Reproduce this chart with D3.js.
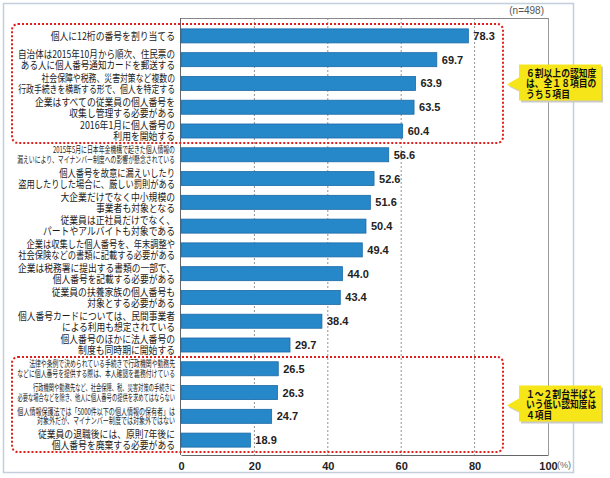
<!DOCTYPE html>
<html><head><meta charset="utf-8">
<script src="https://cdn.jsdelivr.net/npm/d3@7"></script>
<style>
body{margin:0;background:#fff;}
svg{display:block;}
</style></head>
<body>
<svg id="c" width="610" height="478"></svg>
<script>
const labels = [
  ["個人に12桁の番号を割り当てる"],
  ["自治体は2015年10月から順次、住民票の","ある人に個人番号通知カードを郵送する"],
  ["社会保障や税務、災害対策など複数の","行政手続きを横断する形で、個人を特定する"],
  ["企業はすべての従業員の個人番号を","収集し管理する必要がある"],
  ["2016年1月に個人番号の","利用を開始する"],
  ["2015年5月に日本年金機構で起きた個人情報の","漏えいにより、マイナンバー制度への影響が懸念されている"],
  ["個人番号を故意に漏えいしたり","盗用したりした場合に、厳しい罰則がある"],
  ["大企業だけでなく中小規模の","事業者も対象となる"],
  ["従業員は正社員だけでなく、","パートやアルバイトも対象である"],
  ["企業は収集した個人番号を、年末調整や","社会保険などの書類に記載する必要がある"],
  ["企業は税務署に提出する書類の一部で、","個人番号を記載する必要がある"],
  ["従業員の扶養家族の個人番号も","対象とする必要がある"],
  ["個人番号カードについては、民間事業者","による利用も想定されている"],
  ["個人番号のほかに法人番号の","制度も同時期に開始する"],
  ["法律や条例で決められている手続きで行政機関や勤務先","などに個人番号を提供する際は、本人確認を義務付けている"],
  ["行政機関や勤務先など、社会保障、税、災害対策の手続きに","必要な場合などを除き、他人に個人番号の提供を求めてはならない"],
  ["個人情報保護法では「5000件以下の個人情報の保有者」は","対象外だが、マイナンバー制度では対象外ではない"],
  ["従業員の退職後には、原則7年後に","個人番号を廃棄する必要がある"]
];
const values = [78.3,69.7,63.9,63.5,60.4,56.6,52.6,51.6,50.4,49.4,44.0,43.4,38.4,29.7,26.5,26.3,24.7,18.9];
const condensedRows = [5,14,15,16];
const xTicks = [0,20,40,60,80,100];
const groups = [
  {from:0, to:4, note:["６割以上の認知度","は、全１８項目の","うち５項目"]},
  {from:14, to:17, note:["１～２割台半ばと","いう低い認知度は","４項目"]}
];
const sampleNote = "(n=498)";
const unitNote = "(%)";

const svg = d3.select("#c");
const jp = "'Noto Sans CJK JP','Noto Sans',sans-serif";
const num = "'Liberation Sans',Arial,sans-serif";

// outer frame
svg.append("rect").attr("x",3.5).attr("y",3.5).attr("width",570).attr("height",469)
  .attr("fill","#fff").attr("stroke","#c3cfdc").attr("stroke-width",1.5);

const x = d3.scaleLinear().domain([0,100]).range([181,548]);
const idx = d3.range(values.length);
const y = d3.scaleBand().domain(idx).range([24,452]).paddingInner(0.41).paddingOuter(0.205);
const plotTop = 18, plotBottom = 455;

// grid
svg.append("g").selectAll("line").data(xTicks.filter(t=>t>0&&t<100)).join("line")
  .attr("x1",d=>x(d)).attr("x2",d=>x(d)).attr("y1",plotTop).attr("y2",plotBottom)
  .attr("stroke","#777").attr("stroke-width",0.8).attr("stroke-dasharray","2,2");
// frame of plot
svg.append("line").attr("x1",x(0)).attr("x2",x(100)).attr("y1",plotTop+0.5).attr("y2",plotTop+0.5).attr("stroke","#888");
svg.append("line").attr("x1",x(100)+0.5).attr("x2",x(100)+0.5).attr("y1",plotTop).attr("y2",plotBottom).attr("stroke","#999");
svg.append("line").attr("x1",x(0)-0.5).attr("x2",x(0)-0.5).attr("y1",plotTop).attr("y2",plotBottom).attr("stroke","#666");

// bars
svg.append("g").selectAll("rect").data(idx).join("rect")
  .attr("x",x(0)).attr("y",i=>y(i)).attr("width",i=>x(values[i])-x(0)).attr("height",y.bandwidth())
  .attr("fill","#2688c9").attr("stroke","#1b6aa6").attr("stroke-width",0.8);

// value labels
svg.append("g").selectAll("text").data(idx).join("text")
  .attr("x",i=>x(values[i])+5).attr("y",i=>y(i)+y.bandwidth()/2).attr("dy","0.36em")
  .attr("font-family",num).attr("font-weight","bold").attr("font-size",11).attr("fill","#222")
  .text(i=>values[i].toFixed(1));

// axis
const ax = svg.append("g").attr("transform",`translate(0,${plotBottom})`)
  .call(d3.axisBottom(x).tickValues(xTicks).tickSize(0).tickPadding(7).tickFormat(d3.format("d")));
ax.select(".domain").attr("stroke","#666");
ax.selectAll("text").attr("font-family",num).attr("font-weight","bold").attr("font-size",11).attr("fill","#222");

svg.append("text").attr("x",557).attr("y",468).attr("font-family",num).attr("font-size",9).attr("fill","#666").text(unitNote);
svg.append("text").attr("x",544).attr("y",14).attr("text-anchor","end").attr("font-family",num).attr("font-size",10).attr("fill","#555").text(sampleNote);

// category labels (one text element per row, lines as tspans)
const labG = svg.append("g");
idx.forEach(i=>{
  const lines = labels[i];
  const cond = condensedRows.includes(i);
  const fs = cond ? 9 : 10.5;
  const lh = cond ? 9.6 : 11;
  const cy = y(i)+y.bandwidth()/2;
  const g = labG.append("g");
  const t = g.append("text").attr("text-anchor","end").attr("font-family",jp)
    .attr("font-size",fs).attr("fill","#1a1a1a");
  lines.forEach((s,k)=>{
    t.append("tspan").attr("x",0).attr("y",(k-(lines.length-1)/2)*lh).attr("dy","0.36em").text(s);
  });
  let mw = 0;
  t.selectAll("tspan").each(function(){mw=Math.max(mw,this.getComputedTextLength());});
  const sx = cond ? 158/mw : Math.min(0.84, 157/mw);
  g.attr("transform",`translate(175,${cy}) scale(${sx},1)`);
});

// red dotted group boxes + callouts
const half = y.step()*y.paddingInner()/2;
groups.forEach(gp=>{
  const top = y(gp.from)-half, bot = y(gp.to)+y.bandwidth()+half;
  svg.append("rect").attr("x",12).attr("y",top).attr("width",503-12).attr("height",bot-top)
    .attr("rx",6).attr("ry",6).attr("fill","none").attr("stroke","#e0201c")
    .attr("stroke-width",2).attr("stroke-dasharray","2,2");
  const mid = (top+bot)/2;
  const bx = 519, bw = 82, bh = 36, by = mid-bh/2-1;
  const path = `M${bx},${by} H${bx+bw} V${by+bh} H${bx} V${mid+7} L${507},${mid+1} L${bx},${mid-6} Z`;
  svg.append("path").attr("d",path).attr("fill","#c9c9c9").attr("transform","translate(2,2)");
  svg.append("path").attr("d",path).attr("fill","#f6e619");
  const tg = svg.append("g").attr("transform",`translate(526,${mid}) scale(0.88,1)`);
  const t = tg.append("text").attr("font-family",jp).attr("font-weight","bold")
    .attr("font-size",10).attr("fill","#111");
  gp.note.forEach((s,k)=>{
    t.append("tspan").attr("x",0).attr("y",(k-1)*10.5).attr("dy","0.36em").text(s);
  });
});
</script>
</body></html>
